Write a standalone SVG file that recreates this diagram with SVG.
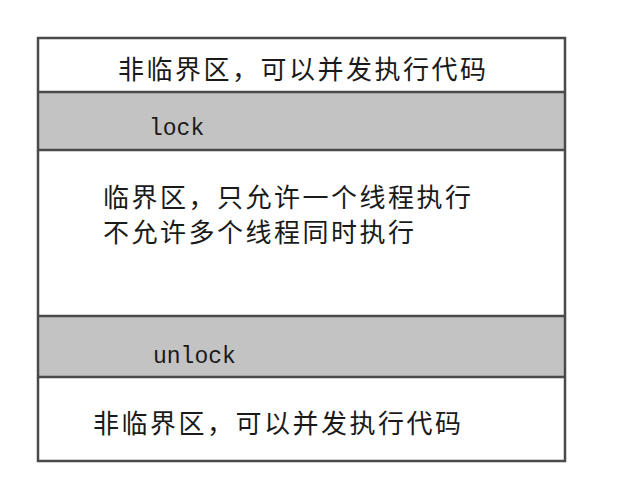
<svg xmlns="http://www.w3.org/2000/svg" width="632" height="484" viewBox="0 0 632 484">
<style>
.cjk{font-family:"Noto Sans CJK SC","Noto Sans",sans-serif;font-size:26px;letter-spacing:2.5px;fill:#1a1a1a}
.mono{font-family:"Liberation Mono","DejaVu Sans Mono",monospace;font-size:23px;fill:#1a1a1a}
.band{fill:#c3c3c3}
.line{stroke:#4a4a4a;stroke-width:2.5;fill:none}
</style>
<rect x="0" y="0" width="632" height="484" fill="#ffffff"/>
<g id="sec-top">
<rect x="38" y="38" width="527" height="54" fill="#ffffff"/>
<text class="cjk" x="118" y="79">非临界区，可以并发执行代码</text>
</g>
<g id="sec-lock">
<rect class="band" x="38" y="92" width="527" height="58"/>
<text class="mono" x="149" y="135">lock</text>
</g>
<g id="sec-critical">
<rect x="38" y="150" width="527" height="166" fill="#ffffff"/>
<text class="cjk" x="103" y="207">临界区，只允许一个线程执行</text>
<text class="cjk" x="103" y="242">不允许多个线程同时执行</text>
</g>
<g id="sec-unlock">
<rect class="band" x="38" y="316" width="527" height="61"/>
<text class="mono" x="153" y="363">unlock</text>
</g>
<g id="sec-bottom">
<rect x="38" y="377" width="527" height="84" fill="#ffffff"/>
<text class="cjk" x="93" y="433">非临界区，可以并发执行代码</text>
</g>
<g id="connectors">
<rect class="line" x="38" y="38" width="527" height="423"/>
<line class="line" x1="38" y1="92" x2="565" y2="92"/>
<line class="line" x1="38" y1="150" x2="565" y2="150"/>
<line class="line" x1="38" y1="316" x2="565" y2="316"/>
<line class="line" x1="38" y1="377" x2="565" y2="377"/>
</g>
</svg>
